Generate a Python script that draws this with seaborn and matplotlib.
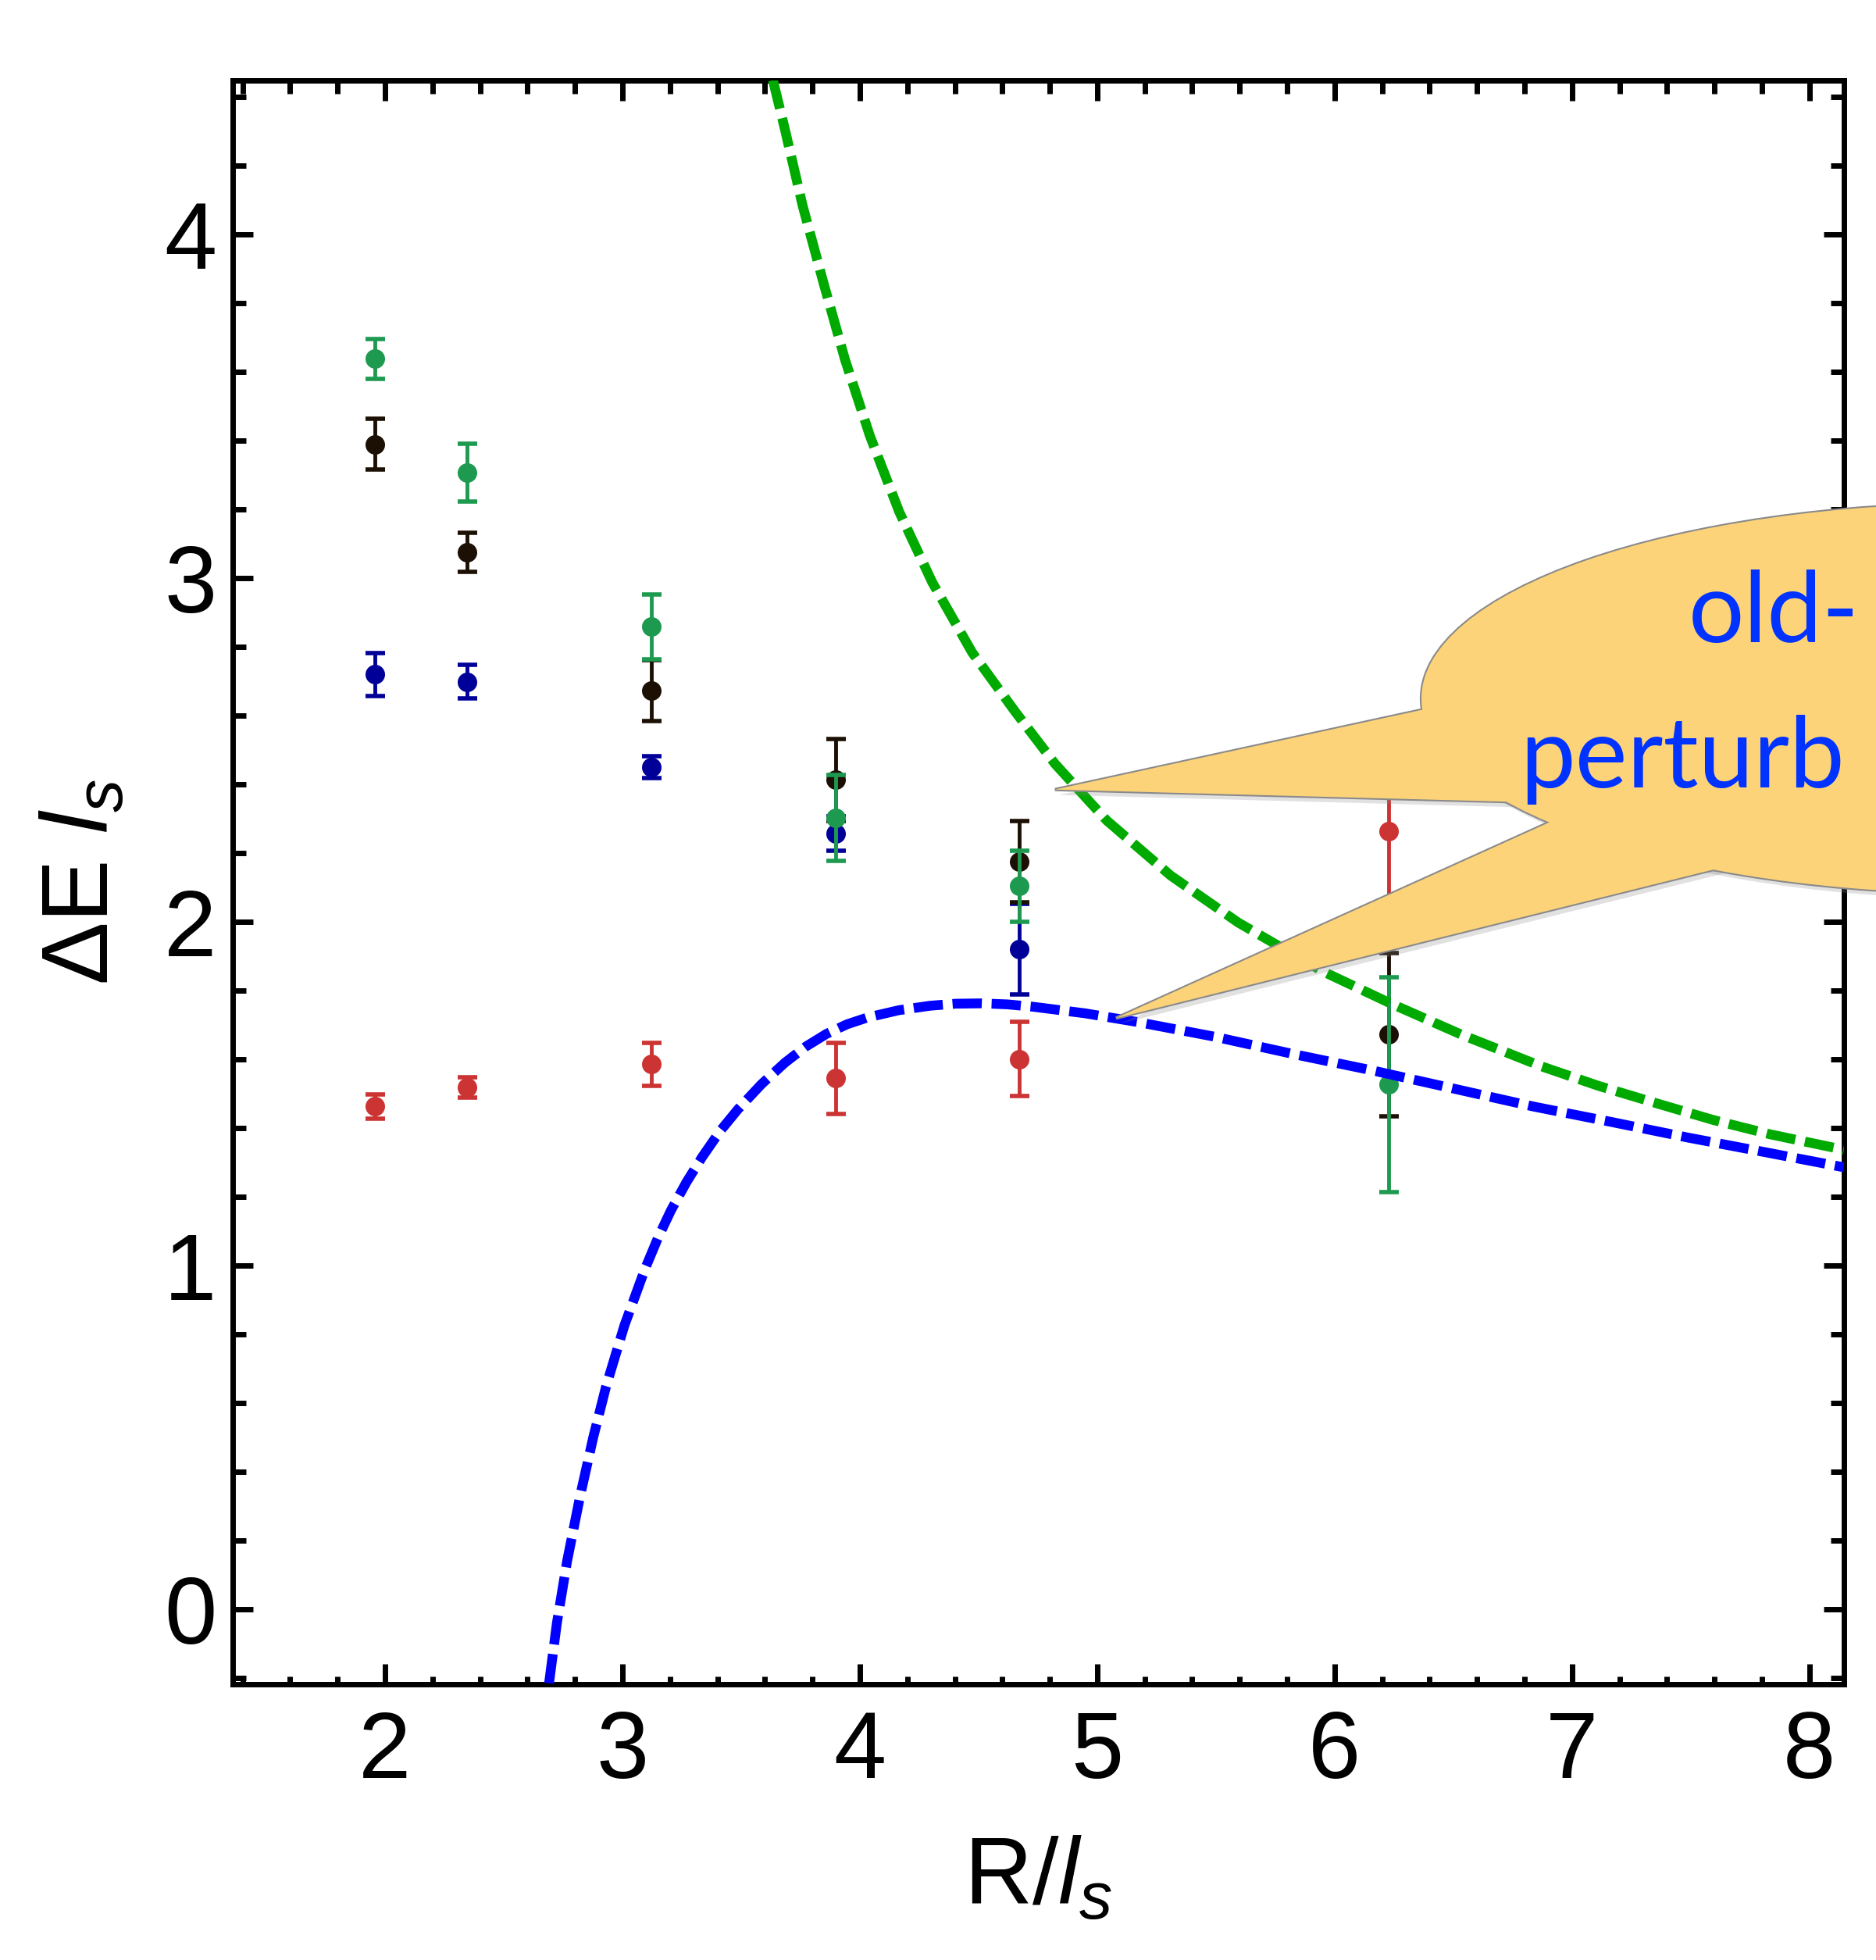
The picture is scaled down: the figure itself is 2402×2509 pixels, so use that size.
import matplotlib
matplotlib.use("Agg")
import matplotlib.pyplot as plt
import matplotlib.patheffects as pe
from matplotlib.patches import Ellipse, Polygon
from matplotlib.ticker import MultipleLocator, NullFormatter
import seaborn as sns

# lattice data: R/l_s positions and the four energy levels
R = [1.957, 2.346, 3.122, 3.898, 4.672, 6.227]
green_y = [3.638, 3.307, 2.859, 2.303, 2.104, 1.527]
green_err = [0.057, 0.084, 0.094, 0.125, 0.103, 0.313]
black_y = [3.390, 3.075, 2.673, 2.413, 2.175, 1.672]
black_err = [0.073, 0.057, 0.088, 0.120, 0.118, 0.237]
blue_R = [1.957, 2.346, 3.122, 3.898, 4.672]
blue_y = [2.720, 2.699, 2.450, 2.256, 1.921]
blue_err = [0.063, 0.048, 0.032, 0.050, 0.132]
red_y = [1.463, 1.518, 1.586, 1.545, 1.601, 2.263]
red_err = [0.035, 0.030, 0.062, 0.104, 0.108, 0.220]

# dashed curves
blue_curve_x = [2.691, 2.724, 2.767, 2.822, 2.877, 2.931, 3.008, 3.095, 3.150, 3.204,
                3.270, 3.335, 3.411, 3.487, 3.586, 3.684, 3.772, 3.859, 3.946, 4.033,
                4.164, 4.295, 4.404, 4.513, 4.622, 4.731, 4.949, 5.175, 5.494, 5.829,
                6.165, 6.501, 6.836, 7.172, 7.484, 7.813, 8.145]
blue_curve_y = [-0.215, -0.040, 0.140, 0.330, 0.500, 0.648, 0.825, 0.990, 1.081, 1.160,
                1.243, 1.315, 1.391, 1.455, 1.528, 1.590, 1.637, 1.674, 1.702, 1.722,
                1.743, 1.756, 1.762, 1.763, 1.760, 1.753, 1.734, 1.708, 1.666, 1.615,
                1.567, 1.515, 1.463, 1.417, 1.373, 1.330, 1.286]
green_curve_x = [3.634, 3.683, 3.759, 3.847, 3.938, 4.042, 4.166, 4.305, 4.473, 4.655,
                 4.822, 5.040, 5.309, 5.594, 5.947, 6.232, 6.534, 6.870, 7.111, 7.352,
                 7.593, 7.834, 8.145]
green_curve_y = [4.449, 4.310, 4.084, 3.859, 3.635, 3.415, 3.193, 2.988, 2.784, 2.611,
                 2.460, 2.295, 2.135, 1.998, 1.857, 1.764, 1.672, 1.580, 1.523, 1.473,
                 1.424, 1.382, 1.337]

sns.set_style("white")
plt.rcParams["font.family"] = ["Liberation Sans", "DejaVu Sans"]
plt.rcParams["mathtext.fontset"] = "custom"
plt.rcParams["mathtext.rm"] = "Liberation Sans"
plt.rcParams["mathtext.it"] = "Liberation Sans:italic"
plt.rcParams["text.color"] = "black"
plt.rcParams["axes.labelcolor"] = "black"
plt.rcParams["xtick.color"] = "black"
plt.rcParams["ytick.color"] = "black"

fig = plt.figure(figsize=(24.02, 25.09), dpi=100)
ax = fig.add_axes([0.1241, 0.1407, 0.8588, 0.8184])

series = [
    (R, red_y, red_err, "#cc3333"),
    (blue_R, blue_y, blue_err, "#000099"),
    (R, black_y, black_err, "#1c1005"),
    (R, green_y, green_err, "#1e9a50"),
]
for i, (x, y, e, c) in enumerate(series):
    z = 3 + i
    ax.errorbar(x, y, yerr=e, fmt="none", ecolor=c, elinewidth=3.5,
                capsize=9, capthick=4, zorder=z)
    sns.scatterplot(x=x, y=y, color=c, s=324, linewidth=0, ax=ax, zorder=z + 0.5)

dash = (0, (3.0, 1.0))
sns.lineplot(x=green_curve_x, y=green_curve_y, sort=False, color="#00aa00",
             linewidth=9, linestyle=dash, ax=ax, zorder=8)
sns.lineplot(x=blue_curve_x, y=blue_curve_y, sort=False, color="#0000ff",
             linewidth=9, linestyle=dash, ax=ax, zorder=8)

ax.set_xlim(1.359, 8.145)
ax.set_ylim(-0.218, 4.449)
for a in (ax.xaxis, ax.yaxis):
    a.set_major_locator(MultipleLocator(1))
    a.set_minor_locator(MultipleLocator(0.2))
ax.tick_params(which="both", direction="in", width=5, color="black",
               top=False, bottom=True, left=True, right=True)
ax.tick_params(which="major", length=19)
ax.tick_params(axis="y", which="minor", length=12.5)
ax.tick_params(axis="x", which="minor", length=7)
ax.tick_params(axis="x", labelsize=87, pad=24, labelcolor="black")
ax.tick_params(axis="y", labelsize=87, pad=15, labelcolor="black")
for s in ax.spines.values():
    s.set_linewidth(5)
    s.set_color("black")

# top frame ticks (longer minor ticks than the bottom ones)
top = ax.secondary_xaxis("top")
top.xaxis.set_major_locator(MultipleLocator(1))
top.xaxis.set_minor_locator(MultipleLocator(0.2))
top.xaxis.set_major_formatter(NullFormatter())
top.tick_params(which="both", direction="in", width=5, color="black")
top.tick_params(which="major", length=19)
top.tick_params(which="minor", length=12.5)
top.spines["top"].set_linewidth(5)

ax.set_xlabel("R/$l_s$", fontsize=87, labelpad=35, color="black")
ax.set_ylabel("ΔE $l_s$", fontsize=87, labelpad=33, color="black")


# speech bubble
def bubble_shapes():
    return [
        Ellipse((8.734, 2.650), 4.737, 1.136),
        Polygon([(4.822, 2.385), (6.628, 2.656), (6.826, 2.348)]),
        Polygon([(5.079, 1.720), (7.056, 2.337), (7.780, 2.184)]),
    ]


for p in bubble_shapes():
    p.set_facecolor("#fdd37a")
    p.set_edgecolor("#8a8a8a")
    p.set_linewidth(3)
    p.set_clip_on(False)
    p.set_zorder(10)
    p.set_path_effects([pe.SimplePatchShadow(offset=(4, -5), shadow_rgbFace="#888888",
                                             alpha=0.25), pe.Normal()])
    ax.add_patch(p)
for p in bubble_shapes():
    p.set_facecolor("#fdd37a")
    p.set_edgecolor("none")
    p.set_clip_on(False)
    p.set_zorder(10.5)
    ax.add_patch(p)

ax.text(7.49, 2.813, "old-", fontsize=91, family="Lato", color="#0033ff",
        ha="left", va="baseline", zorder=12, clip_on=False)
ax.text(6.78, 2.392, "perturb", fontsize=91, family="Lato", color="#0033ff",
        ha="left", va="baseline", zorder=12, clip_on=False)

fig.savefig("out.png", dpi=100)
